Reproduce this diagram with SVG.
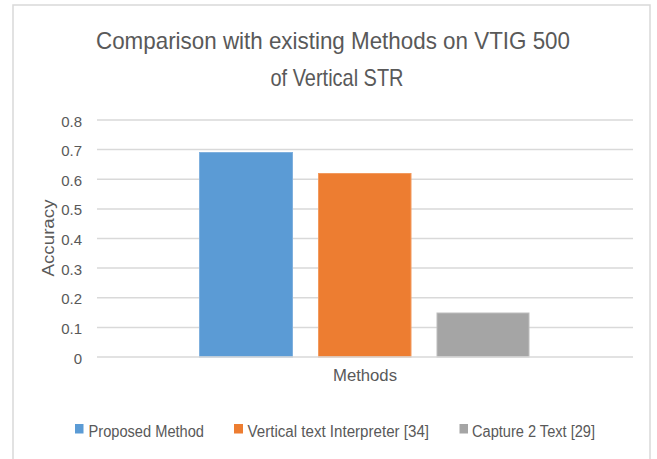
<svg xmlns="http://www.w3.org/2000/svg" width="657" height="459" viewBox="0 0 657 459">
<style>
text{font-family:"Liberation Sans","Open Sans",sans-serif;fill:#595959}
.grid{stroke:#d9d9d9;stroke-width:1.5}
.tick{font-size:15px;text-anchor:end}
.leg{font-size:16px}
</style>
<rect width="657" height="459" fill="#fff"/>
<rect x="13" y="5" width="637" height="470" fill="#fff" stroke="#d9d9d9" stroke-width="1.5"/>
<g id="title">
<text x="333" y="48.5" font-size="24" text-anchor="middle" textLength="474" lengthAdjust="spacingAndGlyphs">Comparison with existing Methods on VTIG 500</text>
<text x="337" y="85.5" font-size="24" text-anchor="middle" textLength="133" lengthAdjust="spacingAndGlyphs">of Vertical STR</text>
</g>
<g id="gridlines">
<line class="grid" x1="97" y1="120" x2="633" y2="120"/>
<line class="grid" x1="97" y1="149.6" x2="633" y2="149.6"/>
<line class="grid" x1="97" y1="179.3" x2="633" y2="179.3"/>
<line class="grid" x1="97" y1="208.9" x2="633" y2="208.9"/>
<line class="grid" x1="97" y1="238.5" x2="633" y2="238.5"/>
<line class="grid" x1="97" y1="268.1" x2="633" y2="268.1"/>
<line class="grid" x1="97" y1="297.8" x2="633" y2="297.8"/>
<line class="grid" x1="97" y1="327.4" x2="633" y2="327.4"/>
</g>
<g id="y-axis">
<text class="tick" x="82" y="126.5">0.8</text>
<text class="tick" x="82" y="156.1">0.7</text>
<text class="tick" x="82" y="185.8">0.6</text>
<text class="tick" x="82" y="215.4">0.5</text>
<text class="tick" x="82" y="245">0.4</text>
<text class="tick" x="82" y="274.6">0.3</text>
<text class="tick" x="82" y="304.3">0.2</text>
<text class="tick" x="82" y="333.9">0.1</text>
<text class="tick" x="82" y="363.5">0</text>
<text x="0" y="0" font-size="16" text-anchor="middle" transform="translate(53.5,238) rotate(-90)" textLength="77" lengthAdjust="spacingAndGlyphs">Accuracy</text>
</g>
<g id="bar-proposed"><rect x="199.5" y="152.5" width="93" height="204.5" fill="#5B9BD5" stroke="#7fb0de" stroke-width="1"/></g>
<g id="bar-vti"><rect x="318.5" y="173.5" width="92.5" height="183.5" fill="#ED7D31" stroke="#f29a5e" stroke-width="1"/></g>
<g id="bar-c2t"><rect x="437" y="313" width="92" height="44" fill="#A5A5A5" stroke="#bdbdbd" stroke-width="1"/></g>
<line class="grid" x1="97" y1="357" x2="633" y2="357"/>
<g id="x-axis">
<text x="365" y="380.5" font-size="16" text-anchor="middle" textLength="64" lengthAdjust="spacingAndGlyphs">Methods</text>
</g>
<g id="legend">
<rect x="75" y="424" width="8.5" height="9.5" fill="#5B9BD5"/>
<text class="leg" x="88.5" y="436.5" textLength="115.5" lengthAdjust="spacingAndGlyphs">Proposed Method</text>
<rect x="234" y="424" width="9" height="9.5" fill="#ED7D31"/>
<text class="leg" x="247.5" y="436.5" textLength="181.5" lengthAdjust="spacingAndGlyphs">Vertical text Interpreter [34]</text>
<rect x="459.5" y="424" width="8.5" height="9.5" fill="#A5A5A5"/>
<text class="leg" x="472" y="436.5" textLength="123" lengthAdjust="spacingAndGlyphs">Capture 2 Text [29]</text>
</g>
</svg>
